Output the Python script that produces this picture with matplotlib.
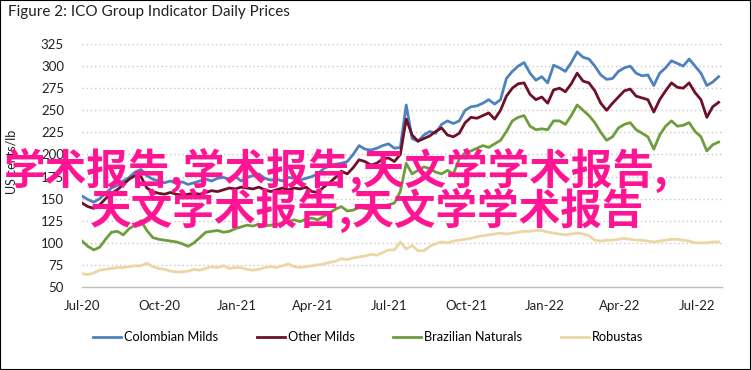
import matplotlib
matplotlib.use('Agg')
import matplotlib.pyplot as plt
import pandas as pd
from matplotlib.patches import Rectangle

# ---------------- data (weekly readings, US cents/lb) ----------------
dates = pd.date_range('2020-07-01', periods=109, freq='7D')

colombian_milds = [
    153, 149, 146, 150, 156, 162, 165, 170, 174, 180,
    183, 176, 172, 170, 168, 170, 167, 169, 166, 168,
    170, 172, 170, 173, 174, 172, 175, 170, 174, 176,
    178, 173, 171, 172, 170, 174, 173, 171, 173, 175,
    178, 184, 187, 189, 190, 192, 200, 210, 206, 205,
    207, 210, 212, 207, 208, 256, 218, 215, 222, 226,
    224, 234, 238, 235, 238, 250, 254, 255, 258, 262,
    257, 262, 286, 294, 300, 304, 292, 284, 288, 281,
    301, 298, 294, 304, 316, 310, 308, 300, 290, 285,
    286, 294, 298, 300, 292, 289, 290, 278, 292, 298,
    306, 303, 300, 308, 300, 292, 278, 282, 288]

other_milds = [
    145, 141, 139, 143, 150, 156, 160, 166, 172, 176,
    175, 162, 158, 156, 155, 157, 155, 154, 155, 156,
    155, 157, 159, 158, 160, 162, 161, 163, 162, 161,
    163, 160, 158, 160, 162, 160, 162, 161, 163, 158,
    157, 163, 168, 174, 181, 178, 185, 194, 192, 188,
    190, 195, 196, 192, 200, 240, 222, 215, 218, 221,
    226, 230, 222, 220, 224, 236, 242, 241, 244, 247,
    240, 250, 266, 275, 280, 281, 268, 262, 265, 258,
    273, 275, 271, 280, 292, 283, 281, 272, 258, 250,
    258, 265, 272, 274, 266, 264, 262, 248, 262, 272,
    281, 276, 275, 281, 270, 262, 242, 254, 259]

brazilian_naturals = [
    102, 96, 92, 95, 104, 112, 113, 109, 116, 120,
    125, 114, 106, 104, 103, 102, 101, 99, 96, 100,
    106, 112, 113, 114, 112, 113, 116, 118, 120, 119,
    121, 119, 120, 121, 122, 124, 126, 124, 127, 128,
    126, 130, 134, 138, 141, 136, 137, 140, 139, 138,
    139, 142, 143, 145, 158, 190, 178, 182, 186, 184,
    180, 178, 182, 178, 195, 202, 204, 207, 210, 208,
    212, 216, 226, 238, 242, 244, 232, 228, 229, 228,
    238, 238, 234, 244, 256, 250, 244, 236, 225, 216,
    220, 230, 234, 236, 228, 224, 220, 206, 222, 232,
    238, 232, 233, 236, 226, 220, 204, 211, 214]

robustas = [
    65, 64, 66, 69, 70, 71, 72, 72, 73, 74,
    74, 77, 73, 71, 70, 68, 67, 67, 68, 70,
    69, 71, 73, 72, 74, 71, 72, 72, 70, 69,
    70, 72, 73, 72, 74, 76, 73, 72, 73, 74,
    75, 76, 78, 79, 82, 81, 83, 84, 85, 87,
    86, 89, 92, 92, 101, 93, 97, 91, 91, 96,
    99, 101, 100, 102, 103, 104, 105, 107, 108, 109,
    110, 111, 110, 111, 112, 113, 113, 114, 114, 112,
    111, 110, 109, 110, 111, 110, 108, 103, 102, 103,
    103, 104, 105, 104, 103, 103, 102, 101, 102, 103,
    104, 104, 103, 102, 100, 100, 100, 101, 101]

series_names = ['Colombian Milds', 'Other Milds', 'Brazilian Naturals', 'Robustas']
series_colors = ['#4F81BD', '#6E1028', '#6E9E3C', '#EDD6A6']

tick_dates = ['2020-07-01', '2020-10-01', '2021-01-01', '2021-04-01', '2021-07-01',
              '2021-10-01', '2022-01-01', '2022-04-01', '2022-07-01']
tick_labels = ['Jul-20', 'Oct-20', 'Jan-21', 'Apr-21', 'Jul-21',
               'Oct-21', 'Jan-22', 'Apr-22', 'Jul-22']
y_ticks = [50, 75, 100, 125, 150, 175, 200, 225, 250, 275, 300, 325]

title = 'Figure 2: ICO Group Indicator Daily Prices'
y_label = 'US cents/lb'
overlay_1 = '学术报告,学术报告,天文学学术报告,'
overlay_2 = '天文学术报告,天文学学术报告'

# ---------------- figure ----------------
plt.rcParams['font.family'] = ['Lato', 'DejaVu Sans']
W, H = 751, 370
fig = plt.figure(figsize=(W / 100, H / 100), dpi=100)
ax = fig.add_axes([82 / W, 1 - 287 / H, (722 - 82) / W, (287 - 44) / H])

all_series = [colombian_milds, other_milds, brazilian_naturals, robustas]
handles = []
for vals, name, col in zip(all_series, series_names, series_colors):
    h, = ax.plot(dates, vals, color=col, lw=2.0, label=name, solid_joinstyle='round')
    handles.append(h)

ax.set_ylim(50, 325)
ax.set_xlim(pd.Timestamp('2020-07-01'), pd.Timestamp('2022-07-31'))
ax.set_yticks(y_ticks)
ax.set_xticks(pd.to_datetime(tick_dates))
ax.set_xticklabels(tick_labels)

for v in y_ticks[1:]:
    ax.axhline(v, color='#C8C8C8', lw=1.0, ls=(0, (1, 2)), zorder=0)

for s in ['top', 'right', 'left']:
    ax.spines[s].set_visible(False)
ax.spines['bottom'].set_color('#BFBFBF')
ax.spines['bottom'].set_linewidth(1.0)
ax.tick_params(axis='both', length=0, labelsize=9.5, colors='#222222')
ax.tick_params(axis='y', pad=13)
ax.tick_params(axis='x', pad=9)

fig.text(8 / W, 1 - 12 / H, title, fontsize=11, color='#222222', ha='left', va='center')
fig.text(12 / W, 1 - 162 / H, y_label, fontsize=9, color='#222222', rotation=90,
         ha='center', va='center')

fig.legend(handles=handles, labels=series_names, loc='center left',
           bbox_to_anchor=(93 / W, 1 - 337 / H), ncol=4, frameon=False,
           fontsize=9.2, handlelength=2.2, handletextpad=0.25, columnspacing=3.0,
           borderpad=0, borderaxespad=0)

# overlay text
fig.text(4 / W, 1 - 170 / H, overlay_1, fontsize=30, color='#FF1493',
         family=['Noto Sans CJK SC', 'DejaVu Sans'], weight='bold',
         ha='left', va='center', zorder=10)
fig.text(90 / W, 1 - 210 / H, overlay_2, fontsize=30, color='#FF1493',
         family=['Noto Sans CJK SC', 'DejaVu Sans'], weight='bold',
         ha='left', va='center', zorder=10)

fig.patches.append(Rectangle((0, 0), 1, 1, transform=fig.transFigure, fill=False,
                             edgecolor='black', lw=1.5))

fig.savefig('out.png', dpi=100)
